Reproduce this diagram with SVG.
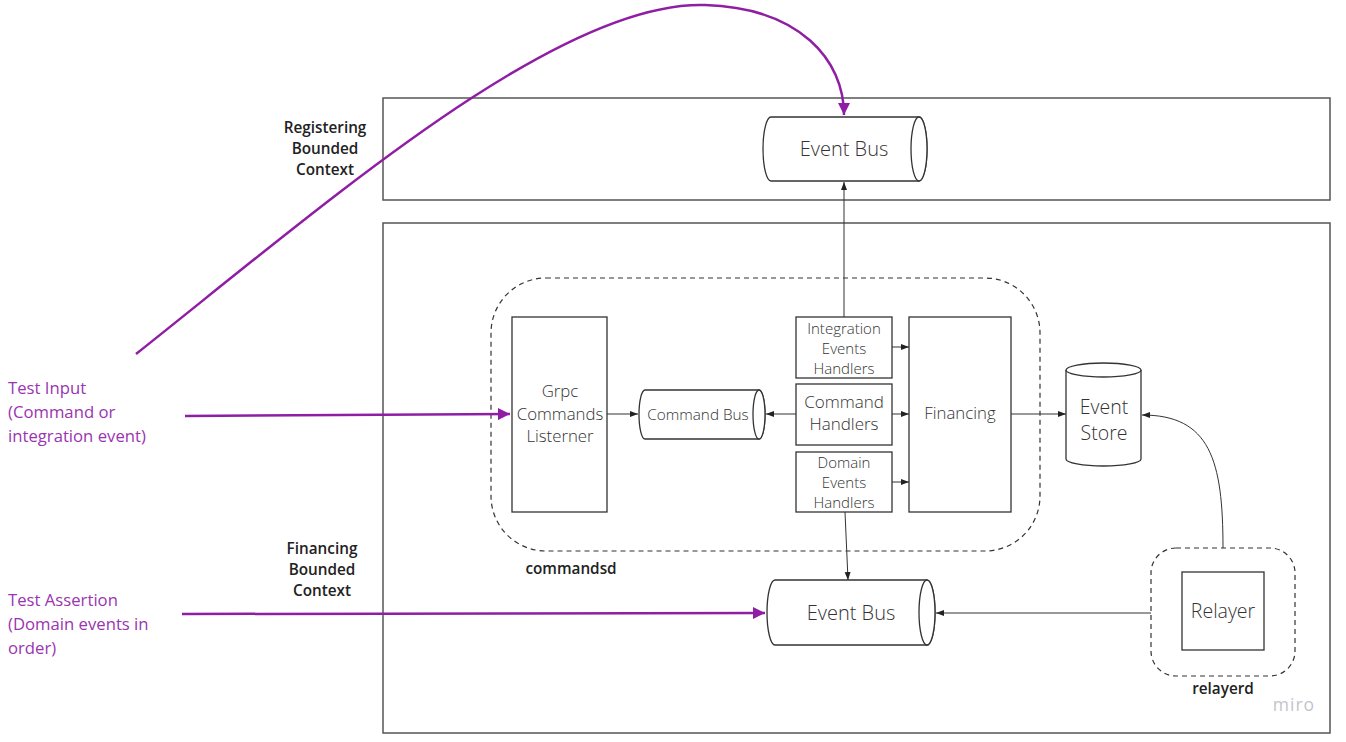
<svg xmlns="http://www.w3.org/2000/svg" width="1346" height="742" viewBox="0 0 1346 742">
<style>
.box{fill:#fff;stroke:#555;stroke-width:1.5}
.node{fill:#fff;stroke:#333;stroke-width:1.3}
.dash{fill:none;stroke:#333;stroke-width:1.2;stroke-dasharray:5 4}
.t{font-family:"Open Sans","Noto Sans","Liberation Sans",sans-serif;font-weight:300;fill:#333;text-anchor:middle}
.b{font-family:"Open Sans","Noto Sans","Liberation Sans",sans-serif;font-weight:600;fill:#222;text-anchor:middle;font-size:15.3px}
.p{font-family:"Open Sans","Noto Sans","Liberation Sans",sans-serif;fill:#9a34b0;font-size:16.7px}
.c{fill:none;stroke:#333;stroke-width:1}
.pc{fill:none;stroke:#8f1ea5;stroke-width:2.5}
</style>
<defs>
<marker id="ah" markerUnits="userSpaceOnUse" markerWidth="10" markerHeight="8" refX="8" refY="4" orient="auto">
<path d="M0,1 L8,4 L0,7 Z" fill="#222"/>
</marker>
<marker id="ph" markerUnits="userSpaceOnUse" markerWidth="14" markerHeight="12" refX="12" refY="6" orient="auto">
<path d="M0,0 L12,6 L0,12 Z" fill="#8f1ea5"/>
</marker>
</defs>
<rect width="1346" height="742" fill="#fff"/>

<g id="registering-context">
<rect class="box" x="383" y="98" width="947" height="102"/>
<text class="b"><tspan x="325" y="133">Registering</tspan><tspan x="325" y="154">Bounded</tspan><tspan x="325" y="175">Context</tspan></text>
</g>
<g id="financing-context">
<rect class="box" x="383" y="223" width="947" height="510"/>
<text class="b"><tspan x="322" y="554">Financing</tspan><tspan x="322" y="575">Bounded</tspan><tspan x="322" y="596">Context</tspan></text>
</g>

<g id="commandsd">
<rect class="dash" x="491" y="278" width="549" height="273" rx="55" ry="55"/>
<text class="b" x="571" y="574">commandsd</text>
</g>
<g id="relayerd">
<rect class="dash" x="1151" y="548" width="144" height="128" rx="25" ry="25"/>
<text class="b" x="1223" y="694">relayerd</text>
</g>

<g id="event-bus-top">
<path class="node" d="M771,117 L919,117 A8,32 0 0 1 919,181 L771,181 A8,32 0 0 1 771,117 Z"/>
<ellipse class="node" cx="919" cy="149" rx="8" ry="32"/>
<text class="t" x="844" y="156" font-size="20">Event Bus</text>
</g>

<g id="grpc-listener">
<rect class="node" x="512" y="317" width="95" height="195"/>
<text class="t" font-size="16.8"><tspan x="560" y="397">Grpc</tspan><tspan x="560" y="420">Commands</tspan><tspan x="560" y="442">Listerner</tspan></text>
</g>

<g id="command-bus">
<path class="node" d="M645,390 L759,390 A6,24.5 0 0 1 759,439 L645,439 A6,24.5 0 0 1 645,390 Z"/>
<ellipse class="node" cx="759" cy="414.5" rx="6" ry="24.5"/>
<text class="t" x="698" y="420" font-size="15.3">Command Bus</text>
</g>

<g id="integration-events-handlers">
<rect class="node" x="796" y="317" width="96" height="61"/>
<text class="t" font-size="15"><tspan x="844" y="334">Integration</tspan><tspan x="844" y="354">Events</tspan><tspan x="844" y="374">Handlers</tspan></text>
</g>
<g id="command-handlers">
<rect class="node" x="796" y="384" width="96" height="61"/>
<text class="t" font-size="17"><tspan x="844" y="408">Command</tspan><tspan x="844" y="430">Handlers</tspan></text>
</g>
<g id="domain-events-handlers">
<rect class="node" x="796" y="452" width="96" height="60"/>
<text class="t" font-size="15"><tspan x="844" y="468">Domain</tspan><tspan x="844" y="488">Events</tspan><tspan x="844" y="508">Handlers</tspan></text>
</g>

<g id="financing">
<rect class="node" x="909" y="317" width="102" height="195"/>
<text class="t" x="960" y="419" font-size="16.8">Financing</text>
</g>

<g id="event-store">
<path class="node" d="M1066,370 A37.5,7 0 0 1 1141,370 L1141,459 A37.5,7 0 0 1 1066,459 Z"/>
<path class="node" d="M1066,370 A37.5,7 0 0 0 1141,370" fill="none"/>
<text class="t" font-size="19.5"><tspan x="1104" y="414">Event</tspan><tspan x="1104" y="440">Store</tspan></text>
</g>

<g id="relayer">
<rect class="node" x="1182" y="572" width="82" height="78"/>
<text class="t" x="1223" y="618" font-size="19.5">Relayer</text>
</g>

<g id="event-bus-bottom">
<path class="node" d="M775,580 L927,580 A8,32.5 0 0 1 927,645 L775,645 A8,32.5 0 0 1 775,580 Z"/>
<ellipse class="node" cx="927" cy="612.5" rx="8" ry="32.5"/>
<text class="t" x="851" y="620" font-size="20">Event Bus</text>
</g>

<g id="test-input">
<text class="p"><tspan x="8" y="394">Test Input</tspan><tspan x="8" y="418">(Command or</tspan><tspan x="8" y="442">integration event)</tspan></text>
</g>
<g id="test-assertion">
<text class="p"><tspan x="8" y="606">Test Assertion</tspan><tspan x="8" y="630">(Domain events in</tspan><tspan x="8" y="654">order)</tspan></text>
</g>

<text x="1294" y="711" font-family="Open Sans, Noto Sans, Liberation Sans, sans-serif" font-size="17.5" fill="#c4c4cc" text-anchor="middle" letter-spacing="1">miro</text>

<g id="connectors">
<path class="c" d="M844,317 L844,182" marker-end="url(#ah)"/>
<path class="c" d="M607,414 L638,414" marker-end="url(#ah)"/>
<path class="c" d="M796,414 L766,414" marker-end="url(#ah)"/>
<path class="c" d="M892,347 L909,347" marker-end="url(#ah)"/>
<path class="c" d="M892,414 L909,414" marker-end="url(#ah)"/>
<path class="c" d="M892,482 L909,482" marker-end="url(#ah)"/>
<path class="c" d="M1011,414 L1066,414" marker-end="url(#ah)"/>
<path class="c" d="M845,512 L848,580" marker-end="url(#ah)"/>
<path class="c" d="M1151,613 L936,613" marker-end="url(#ah)"/>
<path class="c" d="M1223,548 C1223,460 1210,415 1142,415" marker-end="url(#ah)"/>
<path class="pc" d="M185,416 L510,414" marker-end="url(#ph)"/>
<path class="pc" d="M182,614 L765,613" marker-end="url(#ph)"/>
<path class="pc" d="M136,354 C330,200 560,0 705,5 C800,8 844,60 844,115" marker-end="url(#ph)"/>
</g>
</svg>
